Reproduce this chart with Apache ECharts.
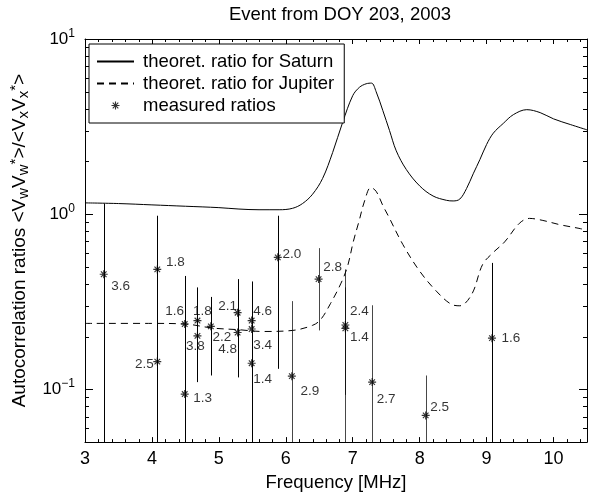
<!DOCTYPE html>
<html><head><meta charset="utf-8">
<script src="https://cdn.jsdelivr.net/npm/echarts@6/dist/echarts.min.js"></script>
<style>html,body{margin:0;padding:0;background:#fff}#c{width:590px;height:497px}</style>
</head><body><div id="c"></div>
<script>
// ---- data ----
const saturnFreq  = [3.0, 3.5, 4.0, 4.5, 5.0, 5.3, 5.6, 5.9, 6.1, 6.25, 6.4, 6.55, 6.7, 6.85, 7.0, 7.1, 7.2, 7.28, 7.35, 7.45, 7.55, 7.65, 7.8, 8.0, 8.2, 8.4, 8.5, 8.6, 8.7, 8.8, 8.9, 9.0, 9.1, 9.25, 9.4, 9.6, 9.8, 10.0, 10.25, 10.5];
const saturnRatio = [1.16, 1.15, 1.13, 1.11, 1.09, 1.07, 1.06, 1.06, 1.08, 1.15, 1.3, 1.6, 2.25, 3.35, 4.75, 5.3, 5.55, 5.6, 5.0, 3.9, 3.0, 2.3, 1.8, 1.45, 1.27, 1.2, 1.19, 1.22, 1.4, 1.7, 2.05, 2.5, 2.9, 3.3, 3.7, 3.95, 3.8, 3.5, 3.25, 3.03];
const jupiterFreq  = [3.0, 4.0, 4.5, 4.9, 5.3, 5.65, 6.1, 6.4, 6.52, 6.67, 6.82, 6.92, 7.01, 7.09, 7.18, 7.27, 7.35, 7.45, 7.53, 7.75, 8.0, 8.26, 8.48, 8.6, 8.78, 8.94, 9.09, 9.27, 9.49, 9.64, 9.83, 10.1, 10.38, 10.5];
const jupiterRatio = [0.238, 0.238, 0.236, 0.224, 0.219, 0.214, 0.217, 0.232, 0.25, 0.31, 0.40, 0.50, 0.70, 0.90, 1.2, 1.42, 1.35, 1.12, 0.98, 0.67, 0.473, 0.36, 0.305, 0.30, 0.35, 0.516, 0.60, 0.695, 0.887, 0.946, 0.923, 0.87, 0.83, 0.81];
const measFreq  = [3.28, 4.08, 4.08, 4.49, 4.49, 4.68, 4.68, 4.88, 5.28, 5.28, 5.49, 5.49, 5.49, 5.88, 6.09, 6.49, 6.89, 6.89, 7.29, 8.09, 9.08];
const measRatio = [0.454, 0.484, 0.144, 0.236, 0.094, 0.247, 0.202, 0.229, 0.274, 0.211, 0.247, 0.221, 0.141, 0.567, 0.119, 0.426, 0.233, 0.223, 0.11, 0.071, 0.196];
const measLabel = ['3.6','1.8','2.5','1.6','1.3','1.8','3.8','2.2','2.1','4.8','4.6','3.4','1.4','2.0','2.9','2.8','2.4','1.4','2.7','2.5','1.6'];
const barFreq = [3.28, 4.08, 4.49, 4.68, 4.88, 5.28, 5.49, 5.88, 6.09, 6.49, 6.89, 6.89, 7.29, 8.09, 9.08];
const barHigh = [1.15, 0.98, 0.444, 0.382, 0.337, 0.426, 0.413, 0.98, 0.319, 0.64, 0.484, 0.382, 0.302, 0.12, 0.527];
const barLow  = [0.05, 0.05, 0.05, 0.11, 0.12, 0.117, 0.05, 0.131, 0.05, 0.217, 0.05, 0.093, 0.05, 0.05, 0.05];
const xTickLabels = [3, 4, 5, 6, 7, 8, 9, 10];
const yTickLabels = ['10^1', '10^0', '10^-1'];
const xMinorTicks = [3.2,3.4,3.6,3.8, 4.2,4.4,4.6,4.8, 5.2,5.4,5.6,5.8, 6.2,6.4,6.6,6.8, 7.2,7.4,7.6,7.8, 8.2,8.4,8.6,8.8, 9.2,9.4,9.6,9.8, 10.2,10.4];
const yMinorTicks = [0.06,0.07,0.08,0.09, 0.2,0.3,0.4,0.5,0.6,0.7,0.8,0.9, 2,3,4,5,6,7,8,9];

// ---- styles ----
const labelOffsets = [[17,12],[18,-7],[-13,3],[-10,-13],[18,4],[5,-9],[-2,10],[11,11],[-10,-6],[-10,17],[11,-9],[11,16],[11,16],[14,-3],[18,15],[14,-12],[14,-14],[14,9],[14,17],[14,-8],[19,0]];
const GRAY = 'rgba(0,0,0,0.72)';
const barColors = ['#000','#000','#000','#000','#000','#000','#000','#000', GRAY, GRAY, GRAY, GRAY, GRAY, GRAY, '#000'];

const FONT = '"Liberation Sans", Arial, Helvetica, sans-serif';
const FS = 18.5;
const starPath = 'path://M4.3 0L5.7 0L5.7 10L4.3 10Z M0 4.3L10 4.3L10 5.7L0 5.7Z M1 2L2 1L9 8L8 9Z M8 1L9 2L2 9L1 8Z';

const chart = echarts.init(document.getElementById('c'), null, {renderer: 'canvas'});

function yLabelFmt(v) {
  const e = Math.log10(v);
  const r = Math.round(e);
  if (Math.abs(e - r) > 1e-6) return '';
  const s = '10^' + r;
  if (yTickLabels.indexOf(s) < 0) return '';
  return '{b|10}{s|' + (r < 0 ? '\u2212' + (-r) : r) + '}';
}

const option = {
  backgroundColor: '#fff',
  animation: false,
  title: {
    text: 'Event from DOY 203, 2003',
    left: 340, top: 5, textAlign: 'center', padding: 0,
    textStyle: {fontFamily: FONT, fontSize: FS, fontWeight: 'normal', color: '#000'}
  },
  grid: {left: 83, right: 2, top: 39, bottom: 46},
  legend: {
    orient: 'vertical', left: 89, top: 44,
    itemWidth: 37, itemHeight: 8, itemGap: 3,
    padding: [8, 10, 8, 7],
    borderColor: '#000', borderWidth: 1, backgroundColor: '#fff',
    textStyle: {fontFamily: FONT, fontSize: FS, color: '#000', lineHeight: 17, padding: [0, 0, 0, 4]},
    data: [
      {name: 'theoret. ratio for Saturn', itemStyle: {opacity: 0}},
      {name: 'theoret. ratio for Jupiter', itemStyle: {opacity: 0}},
      {name: 'measured ratios'}
    ]
  },
  xAxis: [{
    type: 'value', min: 3, max: 10.5, interval: 1,
    name: 'Frequency [MHz]', nameLocation: 'middle', nameGap: 27,
    nameTextStyle: {fontFamily: FONT, fontSize: FS, color: '#000'},
    axisLine: {show: true, lineStyle: {color: '#000', width: 1}},
    axisTick: {show: true, inside: true, length: 5, lineStyle: {color: '#000'}},
    axisLabel: {margin: 8, fontFamily: FONT, fontSize: 18, color: '#000',
      formatter: v => xTickLabels.indexOf(v) >= 0 ? String(v) : ''},
    splitLine: {show: false}
  }, {
    type: 'value', min: 3, max: 10.5, interval: 1, position: 'top',
    axisLine: {show: true, onZero: false, lineStyle: {color: '#000', width: 1}},
    axisTick: {show: true, inside: true, length: 5, lineStyle: {color: '#000'}},
    axisLabel: {show: false}, splitLine: {show: false}
  }],
  yAxis: [{
    type: 'log', logBase: 10, min: 0.05, max: 10,
    name: 'Autocorrelation ratios <V{sub|w}V{sub|w}{sup|*}>/<V{sub|x}V{sub|x}{sup|*}>',
    nameLocation: 'middle', nameGap: 32, nameRotate: 90,
    nameTextStyle: {fontFamily: FONT, fontSize: 19, color: '#000',
      rich: {
        sub: {fontFamily: FONT, fontSize: 15, color: '#000', padding: [9, 0, 0, 0]},
        sup: {fontFamily: FONT, fontSize: 15, color: '#000', padding: [0, 0, 8, 0]}
      }},
    axisLine: {show: true, lineStyle: {color: '#000', width: 1}},
    axisTick: {show: true, inside: true, length: 8, lineStyle: {color: '#000'}},
    axisLabel: {margin: 10, formatter: yLabelFmt,
      rich: {
        b: {fontFamily: FONT, fontSize: 17, color: '#000'},
        s: {fontFamily: FONT, fontSize: 12, color: '#000', padding: [0, 0, 11, 0]}
      }},
    splitLine: {show: false}
  }, {
    type: 'log', logBase: 10, min: 0.05, max: 10, position: 'right',
    axisLine: {show: true, onZero: false, lineStyle: {color: '#000', width: 1}},
    axisTick: {show: true, inside: true, length: 8, lineStyle: {color: '#000'}},
    axisLabel: {show: false}, splitLine: {show: false}
  }],
  series: [
    {
      name: 'theoret. ratio for Saturn', type: 'line', symbol: 'none', smooth: 0.35,
      data: saturnFreq.map((f, i) => [f, saturnRatio[i]]),
      lineStyle: {color: '#000', width: 1}, itemStyle: {color: '#000'}, z: 3
    },
    {
      name: 'theoret. ratio for Jupiter', type: 'line', symbol: 'none', smooth: 0.35,
      data: jupiterFreq.map((f, i) => [f, jupiterRatio[i]]),
      lineStyle: {color: '#000', width: 1, type: [7, 5]}, itemStyle: {color: '#000'}, z: 3
    },
    {
      name: 'error bars', type: 'custom', silent: true, z: 2,
      data: barFreq.map((f, i) => [f, barHigh[i], barLow[i]]),
      encode: {x: 0, y: [1, 2]},
      renderItem: (params, api) => {
        const a = api.coord([api.value(0), api.value(1)]);
        const b = api.coord([api.value(0), api.value(2)]);
        const x = Math.round(a[0]) + 0.5;
        return {type: 'line', shape: {x1: x, y1: a[1], x2: x, y2: b[1]},
          style: {stroke: barColors[params.dataIndex], lineWidth: 1}};
      }
    },
    {
      name: 'measured ratios', type: 'scatter', symbol: starPath, symbolSize: 8, symbolKeepAspect: true,
      itemStyle: {color: '#000'}, z: 4,
      data: measFreq.map((f, i) => ({value: [f, measRatio[i]],
        label: {offset: labelOffsets[i]}})),
      label: {show: true, position: 'inside', fontFamily: FONT, fontSize: 13.5, color: '#000',
        formatter: p => measLabel[p.dataIndex]}
    },
    {
      name: 'minor ticks', type: 'custom', silent: true, z: 5,
      data: yMinorTicks.map(v => [3, v]),
      encode: {x: 0, y: 1},
      renderItem: (params, api) => {
        const cs = params.coordSys;
        const p = api.coord([api.value(0), api.value(1)]);
        const y = Math.round(p[1]) + 0.5;
        return {type: 'group', children: [
          {type: 'line', shape: {x1: cs.x, y1: y, x2: cs.x + 4, y2: y}, style: {stroke: '#000', lineWidth: 1}},
          {type: 'line', shape: {x1: cs.x + cs.width - 4, y1: y, x2: cs.x + cs.width, y2: y}, style: {stroke: '#000', lineWidth: 1}}
        ]};
      }
    },
    {
      name: 'minor x ticks', type: 'custom', silent: true, z: 5,
      data: xMinorTicks.map(v => [v, 1]),
      encode: {x: 0, y: 1},
      renderItem: (params, api) => {
        const cs = params.coordSys;
        const p = api.coord([api.value(0), api.value(1)]);
        const x = Math.round(p[0]) + 0.5;
        return {type: 'group', children: [
          {type: 'line', shape: {x1: x, y1: cs.y + cs.height, x2: x, y2: cs.y + cs.height - 3}, style: {stroke: '#000', lineWidth: 1}},
          {type: 'line', shape: {x1: x, y1: cs.y, x2: x, y2: cs.y + 3}, style: {stroke: '#000', lineWidth: 1}}
        ]};
      }
    }
  ]
};
chart.setOption(option);
</script>
</body></html>
